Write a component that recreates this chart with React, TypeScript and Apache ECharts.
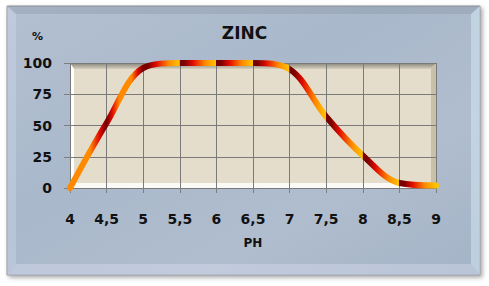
import React, { useEffect, useRef } from "react";
import * as echarts from "echarts";

const phValues = [4, 4.5, 5, 5.5, 6, 6.5, 7, 7.5, 8, 8.5, 9];
const zincPercent = [0, 52, 96, 100, 100, 100, 95, 57, 26, 4, 2];
const yTickValues = [0, 25, 50, 75, 100];
const chartTitle = "ZINC";
const xAxisName = "PH";
const yAxisName = "%";

const W = 489;
const H = 286;
const G = { left: 70, top: 63, right: 53, bottom: 98 };
const PW = W - G.left - G.right;
const PH = H - G.top - G.bottom;

const DARK = "#780000";
const RED = "#e00a00";
const ORANGE = "#ff8a00";
const YELLOW = "#ffc400";

function buildLineGradient() {
  const n = phValues.length - 1;
  const stops: { offset: number; color: string }[] = [];
  for (let i = 0; i < n; i++) {
    const a = i / n;
    const b = (i + 1) / n;
    const at = (f: number) => a + (b - a) * f;
    if (i === 0) {
      stops.push({ offset: at(0), color: ORANGE });
      stops.push({ offset: at(0.55), color: ORANGE });
      stops.push({ offset: at(0.8), color: RED });
      stops.push({ offset: at(0.99), color: DARK });
    } else if (i === 1) {
      stops.push({ offset: at(0.0), color: DARK });
      stops.push({ offset: at(0.15), color: RED });
      stops.push({ offset: at(0.35), color: ORANGE });
      stops.push({ offset: at(0.68), color: ORANGE });
      stops.push({ offset: at(0.85), color: RED });
      stops.push({ offset: at(0.99), color: DARK });
    } else {
      stops.push({ offset: at(0.0), color: DARK });
      stops.push({ offset: at(0.12), color: DARK });
      stops.push({ offset: at(0.35), color: RED });
      stops.push({ offset: at(0.7), color: ORANGE });
      stops.push({ offset: at(0.99), color: YELLOW });
    }
  }
  return new echarts.graphic.LinearGradient(0, 0, 1, 0, stops);
}

export default function App() {
  const ref = useRef<HTMLDivElement>(null);
  useEffect(() => {
    if (!ref.current) return;
    const chart = echarts.init(ref.current, undefined, { renderer: "svg" });
    const fmt = (v: number) => String(v).replace(".", ",");
    const font = "'DejaVu Sans', sans-serif";
    chart.setOption({
      animation: false,
      backgroundColor: "#ffffff",
      title: {
        text: chartTitle,
        left: "center",
        top: 19,
        textStyle: { fontFamily: font, fontWeight: "bold", fontSize: 17, color: "#111" },
      },
      graphic: [
        {
          type: "rect",
          z: -10,
          shape: { x: 7, y: 6, width: 473, height: 269 },
          style: {
            fill: new echarts.graphic.LinearGradient(0, 0, 1, 1, [
              { offset: 0, color: "#b3c0d1" },
              { offset: 0.4, color: "#a9b8cb" },
              { offset: 0.7, color: "#b0bdce" },
              { offset: 1, color: "#a4b3c7" },
            ]),
            stroke: "#8a8f96",
            lineWidth: 1,
            shadowBlur: 4,
            shadowOffsetX: 2,
            shadowOffsetY: 2,
            shadowColor: "rgba(0,0,0,0.35)",
          },
        },
        // frame bevels
        { type: "polygon", z: -9, shape: { points: [[7, 6], [480, 6], [471, 14], [16, 14]] }, style: { fill: "rgba(120,130,145,0.25)" } },
        { type: "polygon", z: -9, shape: { points: [[480, 6], [480, 275], [471, 264], [471, 14]] }, style: { fill: "rgba(220,240,250,0.45)" } },
        { type: "polygon", z: -9, shape: { points: [[7, 275], [480, 275], [471, 264], [16, 264]] }, style: { fill: "rgba(225,230,245,0.35)" } },
        { type: "polygon", z: -9, shape: { points: [[7, 6], [16, 14], [16, 264], [7, 275]] }, style: { fill: "rgba(220,230,245,0.3)" } },
        // plot background
        { type: "rect", z: -5, shape: { x: G.left, y: G.top, width: PW, height: PH }, style: { fill: "#e4ddcb" } },
        {
          type: "polygon",
          z: -4,
          shape: { points: [[G.left, G.top], [G.left + PW, G.top], [G.left + PW - 5, G.top + 6], [G.left + 4, G.top + 6]] },
          style: {
            fill: new echarts.graphic.LinearGradient(0, 0, 0, 1, [
              { offset: 0, color: "#86837a" },
              { offset: 1, color: "#d6cfbd" },
            ]),
          },
        },
        {
          type: "polygon",
          z: -4,
          shape: { points: [[G.left + PW, G.top], [G.left + PW, G.top + PH], [G.left + PW - 5, G.top + PH - 5], [G.left + PW - 5, G.top + 6]] },
          style: { fill: "#c9c0aa" },
        },
        {
          type: "polygon",
          z: -4,
          shape: { points: [[G.left, G.top + PH], [G.left + PW, G.top + PH], [G.left + PW - 5, G.top + PH - 5], [G.left + 4, G.top + PH - 5]] },
          style: { fill: "#fbfaf6" },
        },
        {
          type: "polygon",
          z: -4,
          shape: { points: [[G.left, G.top], [G.left + 4, G.top + 6], [G.left + 4, G.top + PH - 5], [G.left, G.top + PH]] },
          style: { fill: "#ffffff" },
        },
      ],
      grid: { left: G.left, top: G.top, right: G.right, bottom: G.bottom },
      xAxis: {
        type: "value",
        min: 4,
        max: 9,
        interval: 0.5,
        name: xAxisName,
        nameLocation: "middle",
        nameGap: 49,
        nameTextStyle: { fontFamily: font, fontWeight: "bold", fontSize: 12, color: "#111" },
        axisLine: { show: false },
        axisTick: { show: true, length: 5, lineStyle: { color: "#7f7f7f" } },
        axisLabel: {
          formatter: fmt,
          margin: 24,
          fontFamily: font,
          fontWeight: "bold",
          fontSize: 14,
          color: "#111",
        },
        splitLine: { show: true, lineStyle: { color: "#7a7a7a", width: 1 } },
      },
      yAxis: {
        type: "value",
        min: yTickValues[0],
        max: yTickValues[yTickValues.length - 1],
        interval: yTickValues[1] - yTickValues[0],
        name: yAxisName,
        nameLocation: "end",
        nameGap: 21,
        nameTextStyle: { fontFamily: font, fontWeight: "bold", fontSize: 11, color: "#111", align: "right", padding: [0, 27, 0, 0] },
        axisLine: { show: false },
        axisTick: { show: true, length: 6, lineStyle: { color: "#7f7f7f" } },
        axisLabel: {
          margin: 18,
          fontFamily: font,
          fontWeight: "bold",
          fontSize: 14,
          color: "#111",
        },
        splitLine: { show: true, lineStyle: { color: "#7a7a7a", width: 1 } },
      },
      series: [
        {
          type: "line",
          data: phValues.map((x, i) => [x, zincPercent[i]]),
          smooth: 0.35,
          clip: false,
          symbol: "none",
          lineStyle: { width: 6, color: buildLineGradient(), cap: "round", join: "round" },
        },
      ],
    });
    return () => chart.dispose();
  }, []);
  return <div ref={ref} style={{ position: "fixed", left: 0, top: 0, width: W, height: H }} />;
}
